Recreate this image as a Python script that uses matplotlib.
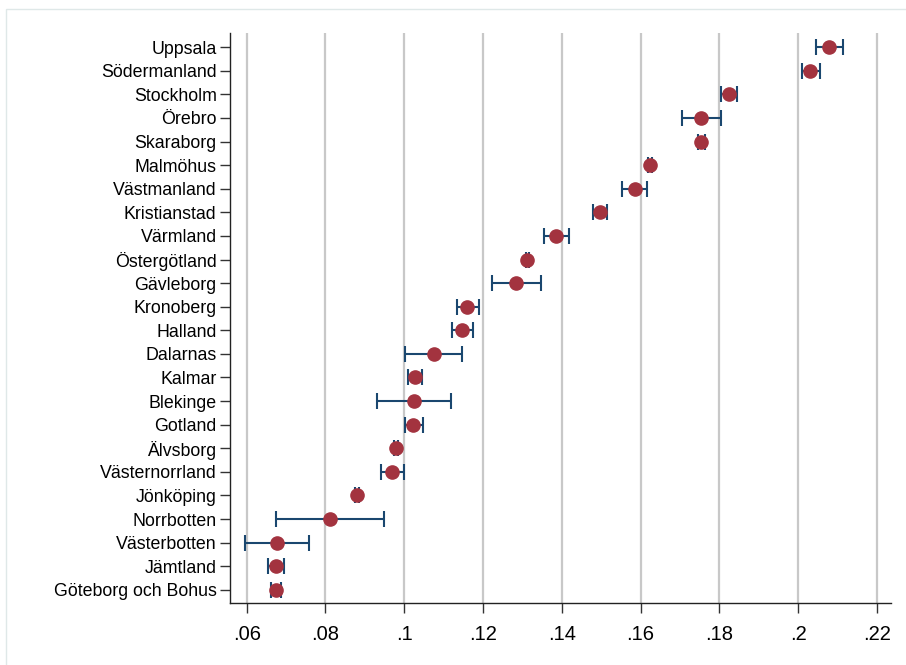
import matplotlib
matplotlib.use("Agg")
import matplotlib.pyplot as plt
from matplotlib.patches import Rectangle

plt.rcParams['font.family'] = ['Liberation Sans', 'DejaVu Sans']

regions = ["Uppsala", "Södermanland", "Stockholm", "Örebro", "Skaraborg",
           "Malmöhus", "Västmanland", "Kristianstad", "Värmland", "Östergötland",
           "Gävleborg", "Kronoberg", "Halland", "Dalarnas", "Kalmar", "Blekinge",
           "Gotland", "Älvsborg", "Västernorrland", "Jönköping", "Norrbotten",
           "Västerbotten", "Jämtland", "Göteborg och Bohus"]
estimate = [0.2078, 0.2030, 0.1824, 0.1754, 0.1754,
            0.1624, 0.1585, 0.1497, 0.1386, 0.1312,
            0.1283, 0.1160, 0.1146, 0.1076, 0.1027, 0.1024,
            0.1023, 0.0979, 0.0969, 0.0880, 0.0812,
            0.0677, 0.0674, 0.0674]
lower = [0.2046, 0.2009, 0.1803, 0.1705, 0.1745,
         0.1620, 0.1554, 0.1480, 0.1356, 0.1308,
         0.1222, 0.1133, 0.1121, 0.1003, 0.1010, 0.0930,
         0.1002, 0.0975, 0.0941, 0.0876, 0.0675,
         0.0595, 0.0653, 0.0662]
upper = [0.2113, 0.2056, 0.1844, 0.1804, 0.1764,
         0.1628, 0.1616, 0.1514, 0.1418, 0.1316,
         0.1348, 0.1191, 0.1175, 0.1147, 0.1046, 0.1120,
         0.1047, 0.0983, 0.0999, 0.0884, 0.0949,
         0.0758, 0.0694, 0.0688]
xticks = [0.06, 0.08, 0.10, 0.12, 0.14, 0.16, 0.18, 0.20, 0.22]
xticklabels = [".06", ".08", ".1", ".12", ".14", ".16", ".18", ".2", ".22"]

fig = plt.figure(figsize=(9.06, 6.65), dpi=100)
fig.patches.append(Rectangle((6/906, -0.1), 1.2, (665 - 9)/665 + 0.1,
                             transform=fig.transFigure, fill=False,
                             edgecolor='#dfe8e8', linewidth=1))
ax = fig.add_axes([0.2544, 0.0928, 0.7287, 0.8576])

ypos = list(range(len(regions)))
xerr = [[e - l for e, l in zip(estimate, lower)],
        [u - e for e, u in zip(estimate, upper)]]
ax.errorbar(estimate, ypos, xerr=xerr, fmt='none', ecolor='#1a476f',
            elinewidth=1.5, capsize=5.5, capthick=1.5, zorder=3)
ax.plot(estimate, ypos, 'o', color='#a3333f', markersize=9.5, zorder=4)

for x in xticks:
    ax.axvline(x, color='#c8c8c8', linewidth=1.6, zorder=1)

ax.set_xlim(0.0559, 0.2235)
ax.set_ylim(23.57, -0.6)
ax.set_yticks(ypos)
ax.set_yticklabels(regions, fontsize=12.8)
ax.set_xticks(xticks)
ax.set_xticklabels(xticklabels, fontsize=14.5)
ax.tick_params(axis='y', length=7, width=1, color='#333333', pad=3)
ax.tick_params(axis='x', length=7, width=1, color='#333333', pad=8.5)
for s in ['top', 'right']:
    ax.spines[s].set_visible(False)
for s in ['left', 'bottom']:
    ax.spines[s].set_linewidth(1)
    ax.spines[s].set_color('#222222')

fig.savefig('out.png', dpi=100)
